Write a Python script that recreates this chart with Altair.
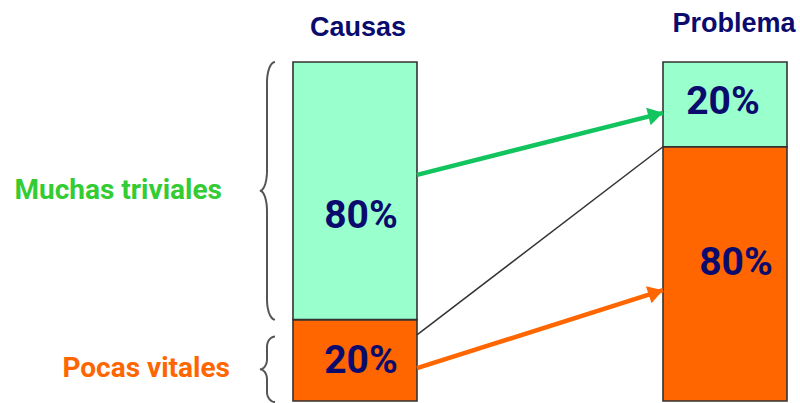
import altair as alt
import pandas as pd
import numpy as np

# ---- data ----
categories = ["Causas", "Problema"]
segments = ["Pocas vitales", "Muchas triviales"]          # bottom, top
seg_heights = {"Causas": [24, 76], "Problema": [75, 25]}   # visual share of each bar
seg_labels = {"Causas": ["20%", "80%"], "Problema": ["80%", "20%"]}
label_y = {"Causas": [11.7, 54.6], "Problema": [40.7, 88.1]}
label_dx = {"Causas": [6, 6], "Problema": [11, -2]}

# arrows: (from value on Causas, to value on Problema)
green_arrow = [66.7, 85.0]
orange_arrow = [9.7, 32.7]
divider_link = [19.5, 75.0]

# braces: (bottom, top) in value units
brace_spans = {"Muchas triviales": [24, 100], "Pocas vitales": [-0.3, 19]}

NAVY = "#0b0b6e"
LIGHT = "#99ffcc"
ORANGE = "#ff6600"
GREEN_ARROW = "#11c45e"
GREEN_TXT = "#33cc33"
NARROW = "Roboto, Liberation Sans, sans-serif"

band = alt.Scale(type="band", domain=categories, paddingInner=0.66486, paddingOuter=0.4135, align=0.9575)
yscale = alt.Scale(domain=[0, 100], nice=False, zero=False)
pxscale = alt.Scale(domain=[0, 800], nice=False, zero=False)

# ---- bars ----
rows = []
for c in categories:
    start = 0
    for s, h in zip(segments, seg_heights[c]):
        rows.append({"cat": c, "seg": s, "y0": start, "y1": start + h})
        start += h
bars_df = pd.DataFrame(rows)

bars = alt.Chart(bars_df).mark_bar(stroke="#333333", strokeWidth=1.6, opacity=1).encode(
    x=alt.X("cat:N", scale=band, axis=None),
    y=alt.Y("y0:Q", scale=yscale, axis=None),
    y2="y1:Q",
    color=alt.Color("seg:N", scale=alt.Scale(domain=segments, range=[ORANGE, LIGHT]), legend=None),
)

layers_band = [bars]

# ---- in-bar labels ----
for c in categories:
    for i in range(2):
        d = pd.DataFrame({"cat": [c], "t": [seg_labels[c][i]], "v": [label_y[c][i]]})
        layers_band.append(
            alt.Chart(d).mark_text(font=NARROW, fontSize=39, fontWeight="bold", color=NAVY,
                                   baseline="middle", dx=label_dx[c][i]).encode(
                x=alt.X("cat:N", scale=band, axis=None, bandPosition=0.5),
                y=alt.Y("v:Q", scale=yscale, axis=None),
                text="t:N",
            )
        )

# ---- column titles ----
title_dx = {"Causas": 3, "Problema": 9}
title_y = {"Causas": -34, "Problema": -38}
for c in categories:
    d = pd.DataFrame({"cat": [c], "t": [c]})
    layers_band.append(
        alt.Chart(d).mark_text(font="Liberation Sans, Arial, sans-serif", fontSize=27, fontWeight="bold",
                               color=NAVY, baseline="middle", dx=title_dx[c]).encode(
            x=alt.X("cat:N", scale=band, axis=None, bandPosition=0.5),
            y=alt.value(title_y[c]),
            text="t:N",
        )
    )

# ---- arrows & link line ----
def link(vals, color, width):
    d = pd.DataFrame({"a": ["Causas"], "b": ["Problema"], "v0": [vals[0]], "v1": [vals[1]]})
    return alt.Chart(d).mark_rule(color=color, strokeWidth=width).encode(
        x=alt.X("a:N", scale=band, axis=None, bandPosition=1),
        x2=alt.X2("b:N", bandPosition=0),
        y=alt.Y("v0:Q", scale=yscale, axis=None),
        y2="v1:Q",
    )

def head(vals, color, angle):
    d = pd.DataFrame({"b": ["Problema"], "v1": [vals[1]]})
    return alt.Chart(d).mark_point(shape="M0,0 L-1,-0.6 L-1,0.6 Z", filled=True, color=color,
                                   opacity=1, size=900, angle=angle, strokeWidth=0).encode(
        x=alt.X("b:N", scale=band, axis=None, bandPosition=0),
        y=alt.Y("v1:Q", scale=yscale, axis=None),
    )

layers_band += [
    link(divider_link, "#333333", 1.5),
    link(green_arrow, GREEN_ARROW, 4.5),
    head(green_arrow, GREEN_ARROW, 346),
    link(orange_arrow, ORANGE, 4.5),
    head(orange_arrow, ORANGE, 342),
]

# ---- braces (built from the spans) ----
XE, XS, XT = 275, 267, 260
brace_rows = []
for name, (lo, hi) in brace_spans.items():
    mid = (lo + hi) / 2
    r = 6 if hi - lo > 40 else 3
    pts = []
    t = np.linspace(0, np.pi / 2, 12)
    pts += [(XE - (XE - XS) * np.sin(a), hi - r + r * np.cos(a)) for a in t]
    pts += [(XT + (XS - XT) * np.cos(a), mid + r - r * np.sin(a)) for a in t]
    pts += [(XT + (XS - XT) * np.sin(a), mid - r + r * np.cos(a)) for a in t]
    pts += [(XE - (XE - XS) * np.cos(a), lo + r - r * np.sin(a)) for a in t]
    for i, (px, v) in enumerate(pts):
        brace_rows.append({"brace": name, "i": i, "px": px, "v": v})
brace_df = pd.DataFrame(brace_rows)

braces = alt.Chart(brace_df).mark_line(color="#555555", strokeWidth=2).encode(
    x=alt.X("px:Q", scale=pxscale, axis=None),
    y=alt.Y("v:Q", scale=yscale, axis=None),
    detail="brace:N",
    order="i:Q",
)

side_layers = [braces]
side_right = {"Muchas triviales": 222, "Pocas vitales": 230}
side_color = {"Muchas triviales": GREEN_TXT, "Pocas vitales": ORANGE}
for name, (lo, hi) in brace_spans.items():
    d = pd.DataFrame({"t": [name], "v": [(lo + hi) / 2]})
    side_layers.append(
        alt.Chart(d).mark_text(font=NARROW, fontSize=28, fontWeight="bold", color=side_color[name],
                               align="right", baseline="middle").encode(
            x=alt.value(side_right[name]),
            y=alt.Y("v:Q", scale=yscale, axis=None),
            text="t:N",
        )
    )

chart = alt.layer(*layers_band, *side_layers).resolve_scale(x="independent").properties(
    width=800, height=339,
    padding={"left": 0, "right": 0, "top": 62, "bottom": 2},
    autosize=alt.AutoSizeParams(type="none"),
    background="white",
).configure_view(stroke=None)

chart.save("out.html", embed_options={"renderer": "svg", "actions": False})
